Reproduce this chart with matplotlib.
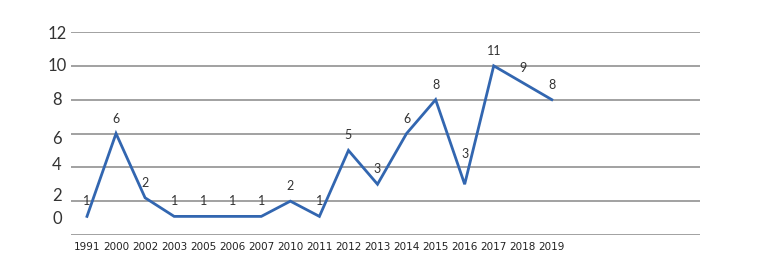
import matplotlib
matplotlib.use("Agg")
import matplotlib.pyplot as plt
import matplotlib.transforms as mtransforms

years = ["1991", "2000", "2002", "2003", "2005", "2006", "2007", "2010", "2011",
         "2012", "2013", "2014", "2015", "2016", "2017", "2018", "2019"]
plotted = [1.1, 6, 2.2, 1.1, 1.1, 1.1, 1.1, 2, 1.1, 5, 3, 6, 8, 3, 10, 9, 8]
labels = ["1", "6", "2", "1", "1", "1", "1", "2", "1", "5", "3", "6", "8", "3", "11", "9", "8"]
yticks = [0, 2, 4, 6, 8, 10, 12]

W, H = 757, 280
fig = plt.figure(figsize=(W / 100, H / 100), dpi=100)
ax = fig.add_axes([71 / W, 1 - 235 / H, (700 - 71) / W, (235 - 32) / H])

x = list(range(len(years)))
ax.plot(x, plotted, color="#3266B0", linewidth=2.0, solid_joinstyle="miter", zorder=3)

ax.set_ylim(0, 12)
ax.set_xlim(-0.55, 21.1)
ax.set_yticks(yticks)
ax.yaxis.grid(True, color="#9a9a9a", linewidth=1.3)
ax.set_axisbelow(True)
for s in ax.spines.values():
    s.set_visible(False)
ax.tick_params(axis="both", length=0)
ax.set_yticklabels([])
ax.set_xticks(x)
ax.set_xticklabels(years, fontsize=7.5, color="#222222", family="Liberation Sans Narrow")
ax.tick_params(axis="x", pad=5)

# y-axis labels, centred left of the plot (slightly offset as in the reference)
ylab_shift = {0: 16, 2: 5, 4: 2, 6: -5, 8: 0, 10: 0, 12: -2}
blend = mtransforms.blended_transform_factory(ax.transAxes, ax.transData)
for v in yticks:
    tr = blend + mtransforms.ScaledTranslation(-14 / 100, ylab_shift[v] / 100, fig.dpi_scale_trans)
    ax.text(0, v, str(v), transform=tr, ha="center", va="center",
            fontsize=12, color="#333333", family="Lato")

extra = {13: 15}
for i, (v, lab) in enumerate(zip(plotted, labels)):
    ax.annotate(lab, (i, v), xytext=(0, 15 + extra.get(i, 0)), textcoords="offset pixels",
                ha="center", va="center", fontsize=9, color="#333333", family="Lato")

fig.savefig("out.png", dpi=100)
